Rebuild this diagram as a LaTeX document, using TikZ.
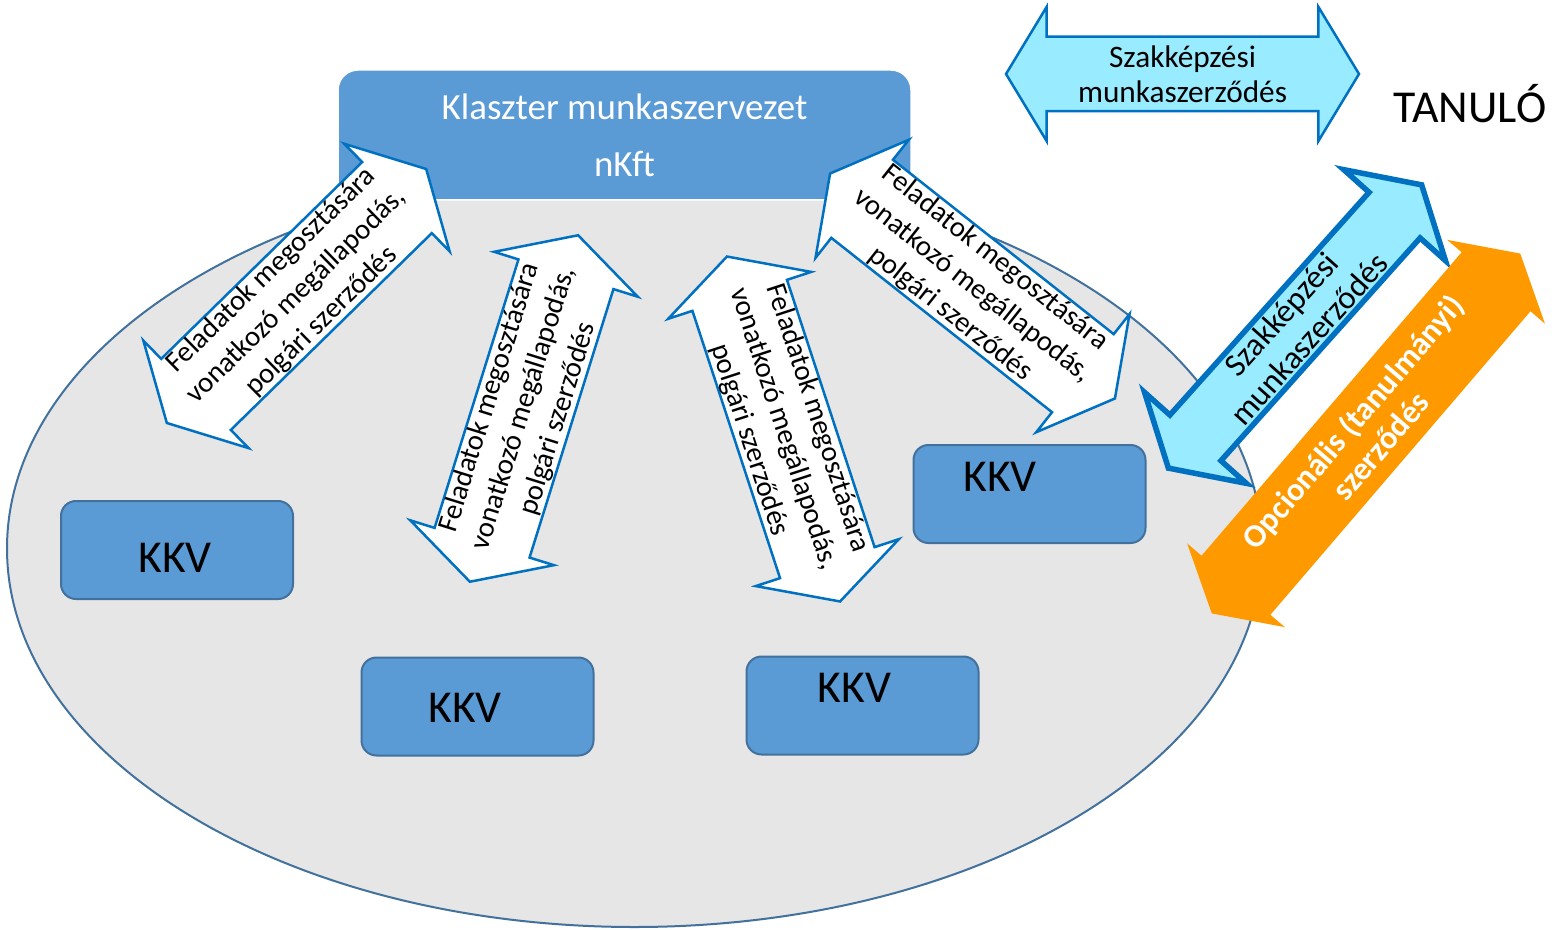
\documentclass[tikz,border=0pt]{standalone}
\usepackage{fontspec}
\setmainfont{Carlito}
\usetikzlibrary{shapes.arrows}

\definecolor{boxblue}{HTML}{5B9BD5}
\definecolor{edgeblue}{HTML}{41719C}
\definecolor{arrowblue}{HTML}{0070C0}
\definecolor{lightcyan}{HTML}{99EBFF}
\definecolor{orangefill}{HTML}{FF9900}
\definecolor{ovalgrey}{HTML}{E6E6E6}

\tikzset{
  kkv/.style={rectangle, rounded corners=0.3cm, draw=edgeblue, line width=0.04cm, fill=boxblue, minimum width=4.64cm, minimum height=1.96cm},
  kkvtext/.style={font=\fontsize{26}{30}\selectfont, inner sep=0pt},
  feladat/.style={double arrow, draw=arrowblue, line width=0.05cm, fill=white, double arrow tip angle=123, double arrow head extend=0.51cm, inner xsep=0pt, inner ysep=0.97cm, minimum height=7.26cm},
  feladattext/.style={align=center, font=\fontsize{16.4}{20.4}\selectfont, inner sep=0pt}
}

\begin{document}
\begin{tikzpicture}
  \useasboundingbox (0,0) rectangle (31.04,-18.6);
  \draw[draw=edgeblue, line width=0.04cm, fill=ovalgrey] (12.69,-10.97) ellipse [x radius=12.55cm, y radius=7.57cm];

  \node[rectangle, rounded corners=0.4cm, fill=boxblue, draw=white, line width=0.03cm, minimum width=11.46cm, minimum height=2.6cm, align=center, text=white, font=\fontsize{21}{32.3}\selectfont] (nkft) at (12.49,-2.70) {Klaszter munkaszervezet\\nKft};

  \node[kkv] (kkv1) at (3.54,-11.0) {};
  \node[kkv] (kkv2) at (9.55,-14.13) {};
  \node[kkv] (kkv3) at (17.25,-14.11) {};
  \node[kkv] (kkv4) at (20.59,-9.88) {};
  \node[kkvtext, xshift=-0.04cm, yshift=-0.16cm] (k1) at (kkv1) {KKV};
  \node[kkvtext, xshift=-0.25cm, yshift=-0.02cm] (k2) at (kkv2) {KKV};
  \node[kkvtext, xshift=-0.16cm, yshift=0.36cm] (k3) at (kkv3) {KKV};
  \node[kkvtext, xshift=-0.59cm, yshift=0.34cm] (k4) at (kkv4) {KKV};

  \node[feladat, rotate=44.4] (a1) at (5.93,-5.92) {};
  \node[feladattext, rotate=44.4] (t1) at (a1) {Feladatok megosztására\\vonatkozó megállapodás,\\polgári szerződés};
  \node[feladat, rotate=72.65] (a2) at (10.48,-8.17) {};
  \node[feladattext, rotate=72.65] (t2) at (a2) {Feladatok megosztására\\vonatkozó megállapodás,\\polgári szerződés};
  \node[feladat, rotate=-71.85] (a3) at (15.67,-8.58) {};
  \node[feladattext, rotate=-71.85] (t3) at (a3) {Feladatok megosztására\\vonatkozó megállapodás,\\polgári szerződés};
  \node[feladat, rotate=-38.3] (a4) at (19.45,-5.72) {};
  \node[feladattext, rotate=-38.3] (t4) at (a4) {Feladatok megosztására\\vonatkozó megállapodás,\\polgári szerződés};

  \node[double arrow, draw=arrowblue, line width=0.05cm, fill=lightcyan, double arrow tip angle=117.6, double arrow head extend=0.6cm, inner xsep=0pt, inner ysep=0.72cm, minimum height=7.06cm] (szak) at (23.65,-1.48) {};
  \node[align=center, font=\fontsize{17.8}{19.8}\selectfont, inner sep=0pt] (szaktext) at (szak) {Szakképzési\\munkaszerződés};
  \node[font=\fontsize{26}{30}\selectfont, inner sep=0pt, anchor=base] (tanulo) at (29.4,-2.46) {TANULÓ};

  \node[double arrow, draw=arrowblue, line width=0.11cm, fill=lightcyan, double arrow tip angle=118.5, double arrow head extend=0.68cm, inner xsep=0pt, inner ysep=0.63cm, minimum height=7.6cm, rotate=48.2] (munka) at (25.9,-6.53) {};
  \node[align=center, font=\fontsize{18.6}{21}\selectfont, inner sep=0pt, rotate=48.2] (munkatext) at (munka) {Szakképzési\\munkaszerződés};

  \node[double arrow, fill=orangefill, double arrow tip angle=120, double arrow head extend=0.38cm, inner xsep=0pt, inner ysep=0.9cm, minimum height=9.48cm, rotate=49.4] (opc) at (27.32,-8.67) {};
  \node[align=center, font=\fontsize{18.5}{21}\selectfont\bfseries, text=white, inner sep=0pt, rotate=49.4] (opctext) at (opc) {Opcionális (tanulmányi)\\szerződés};
\end{tikzpicture}
\end{document}
